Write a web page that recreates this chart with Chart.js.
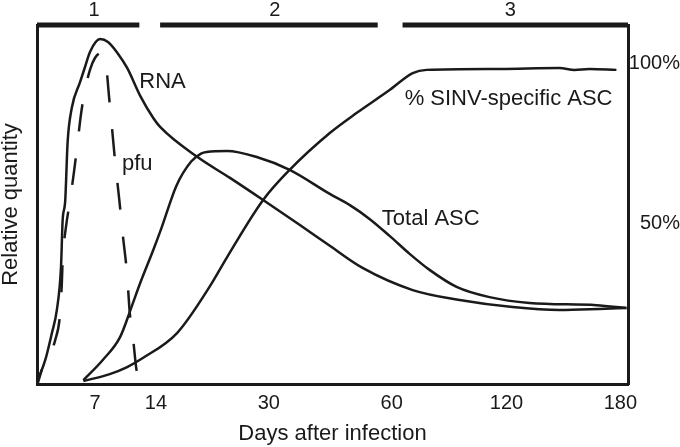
<!DOCTYPE html>
<html>
<head>
<meta charset="utf-8">
<script src="https://cdn.jsdelivr.net/npm/chart.js@4.4.0/dist/chart.umd.min.js"></script>
<style>
  body { margin: 0; background: #fff; }
</style>
</head>
<body>
<canvas id="chart" width="680" height="447"></canvas>
<script>
// the day axis is not to scale: each tick day sits at its own place along it
const tickDays = [0, 7, 14, 30, 60, 120, 180];
const tickPos = [0, 58, 119, 232, 355, 470, 584];
const lastDay = 184;

const rnaDays = [0.1, 1.0, 1.8, 2.4, 2.9, 3.1, 3.4, 3.7, 4.2, 5.2, 5.8, 6.4, 7.6, 8.5, 9.5, 10.7, 12.2, 13.7, 14.6, 19.9, 24.5, 29.2, 37.6, 44.9, 52.9, 71.0, 95.5, 123.2, 147.9, 168.9, 183.2];
const rnaValues = [1.2, 7.5, 15.9, 23.1, 36.5, 51.2, 56.8, 75.5, 86.1, 94.2, 98.9, 103.6, 107.6, 106.7, 103.6, 98.6, 89.9, 83.0, 80.2, 70.8, 64.3, 57.4, 49.6, 43.1, 36.2, 29.3, 26.2, 24.0, 23.1, 23.4, 23.7];

const pfuDays = [0.1, 0.7, 2.2, 2.8, 3.0, 3.1, 3.5, 4.0, 4.5, 4.9, 5.3, 5.8, 6.4, 7.0, 7.7, 8.0, 8.3, 8.6, 8.9, 9.3, 9.8, 10.2, 10.7, 11.0, 11.4, 11.7, 12.0];
const pfuValues = [0.3, 5.3, 13.7, 22.2, 31.5, 38.7, 49.0, 57.4, 66.8, 75.2, 83.9, 91.7, 98.0, 101.7, 103.3, 102.7, 99.2, 90.2, 81.7, 69.9, 57.4, 46.5, 34.0, 22.2, 13.7, 5.9, 0.6];

const totalDays = [5.6, 7.9, 9.9, 11.2, 12.2, 13.7, 14.8, 16.9, 19.0, 20.4, 21.2, 24.1, 28.3, 35.1, 44.9, 49.8, 54.6, 59.5, 69.4, 79.8, 93.9, 111.1, 132.1, 167.4, 183.2];
const totalValues = [1.2, 7.5, 14.7, 24.0, 31.5, 41.8, 48.7, 61.8, 69.4, 71.9, 72.4, 72.7, 70.8, 66.8, 59.3, 55.8, 51.5, 46.2, 40.6, 35.6, 30.3, 27.1, 25.3, 24.6, 23.7];

const sinvDays = [5.6, 8.7, 10.7, 12.5, 17.0, 21.6, 24.1, 29.2, 35.1, 44.9, 51.5, 59.5, 71.0, 78.3, 116.3, 147.9, 155.8, 163.7, 177.9];
const sinvValues = [0.9, 3.1, 5.3, 8.1, 15.9, 30.3, 39.6, 57.4, 66.8, 78.3, 84.6, 91.7, 97.0, 98.0, 98.3, 98.6, 98.0, 98.3, 98.0];

// phases drawn as bars along the top
const phaseNames = ['1', '2', '3'];
const phaseStart = [0, 14.6, 65.7];
const phaseEnd = [12.1, 56.6, 184];
const phaseLabelDay = [6.9, 31.5, 122];

const percentTicks = [50, 100];
const yMax = 112;

const noteText = ['RNA', 'pfu', 'Total ASC', '% SINV-specific ASC'];
const noteDay = [12.1, 10.1, 57.6, 66.8];
const noteValue = [92.4, 66.8, 49.6, 87.1];

const ink = '#1a1a1a';
const font = '"Liberation Sans", Arial, sans-serif';

function dayToPos(d) {
  for (let i = 1; i < tickDays.length; i++) {
    if (d <= tickDays[i] || i === tickDays.length - 1) {
      const t = (d - tickDays[i - 1]) / (tickDays[i] - tickDays[i - 1]);
      return tickPos[i - 1] + t * (tickPos[i] - tickPos[i - 1]);
    }
  }
}

function toPoints(days, values) {
  return days.map((d, i) => ({ x: dayToPos(d), y: values[i] }));
}

const phasePoints = [];
phaseNames.forEach((p, i) => {
  phasePoints.push({ x: dayToPos(phaseStart[i]), y: yMax });
  phasePoints.push({ x: dayToPos(phaseEnd[i]), y: yMax });
  phasePoints.push({ x: dayToPos(phaseEnd[i]), y: null });
});

const curve = {
  borderColor: ink,
  borderWidth: 2.5,
  pointRadius: 0,
  fill: false,
  cubicInterpolationMode: 'monotone'
};

const textPlugin = {
  id: 'texts',
  afterDatasetsDraw(chart) {
    const ctx = chart.ctx;
    const x = chart.scales.x, y = chart.scales.y;
    ctx.save();
    ctx.fillStyle = ink;
    ctx.textBaseline = 'alphabetic';
    ctx.font = '22px ' + font;
    ctx.textAlign = 'left';
    noteText.forEach((t, i) => {
      ctx.fillText(t, x.getPixelForValue(dayToPos(noteDay[i])), y.getPixelForValue(noteValue[i]));
    });
    ctx.font = '20px ' + font;
    ctx.textAlign = 'center';
    phaseNames.forEach((p, i) => {
      ctx.fillText(p, x.getPixelForValue(dayToPos(phaseLabelDay[i])), chart.chartArea.top - 9);
    });
    ctx.restore();
  }
};

new Chart(document.getElementById('chart'), {
  type: 'line',
  data: {
    datasets: [
      { ...curve, label: 'RNA', data: toPoints(rnaDays, rnaValues) },
      { ...curve, label: 'pfu', data: toPoints(pfuDays, pfuValues), borderDash: [27, 27], borderDashOffset: 13 },
      { ...curve, label: 'Total ASC', data: toPoints(totalDays, totalValues) },
      { ...curve, label: '% SINV-specific ASC', data: toPoints(sinvDays, sinvValues) },
      {
        label: 'phase', data: phasePoints, borderColor: ink, borderWidth: 5,
        pointRadius: 0, tension: 0, spanGaps: false, clip: false, borderCapStyle: 'butt'
      }
    ]
  },
  options: {
    responsive: false,
    animation: false,
    layout: { padding: { top: 25, right: 0, left: 0, bottom: 0 } },
    plugins: { legend: { display: false }, tooltip: { enabled: false } },
    scales: {
      x: {
        type: 'linear',
        min: 0,
        max: dayToPos(lastDay),
        grid: { display: false },
        border: { display: true, color: ink, width: 3 },
        afterBuildTicks: s => { s.ticks = tickDays.slice(1).map(d => ({ value: dayToPos(d) })); },
        afterFit: s => { s.height = 63; },
        ticks: {
          autoSkip: false, maxRotation: 0, padding: -1, color: ink,
          font: { family: font, size: 20 },
          callback: (v, i) => String(tickDays[i + 1])
        },
        title: {
          display: true, text: 'Days after infection', color: ink,
          font: { family: font, size: 22 }, padding: { top: 0, bottom: 0 }
        }
      },
      y: {
        min: 0, max: yMax,
        grid: { display: false },
        border: { display: true, color: ink, width: 3 },
        ticks: { display: false },
        afterFit: s => { s.width = 37; },
        title: {
          display: true, text: 'Relative quantity', color: ink,
          font: { family: font, size: 22, lineHeight: 1 }, padding: 0
        }
      },
      y2: {
        position: 'right',
        min: 0, max: yMax,
        grid: { display: false },
        border: { display: true, color: ink, width: 3 },
        afterBuildTicks: s => { s.ticks = percentTicks.map(v => ({ value: v })); },
        afterFit: s => { s.width = 52; },
        ticks: {
          crossAlign: 'far', padding: 2, color: ink,
          font: { family: font, size: 20 },
          callback: v => v + '%'
        }
      }
    }
  },
  plugins: [textPlugin]
});
</script>
</body>
</html>
